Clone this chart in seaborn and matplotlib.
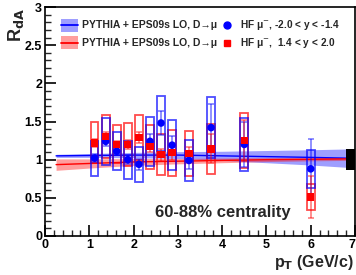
import numpy as np
import pandas as pd
import matplotlib
matplotlib.use("Agg")
import matplotlib.pyplot as plt
from matplotlib.patches import Rectangle
from matplotlib.lines import Line2D
from matplotlib.ticker import MultipleLocator
import seaborn as sns

# ---------------- data ----------------
pt_bins = [1.12, 1.37, 1.62, 1.87, 2.12, 2.37, 2.62, 2.87, 3.25, 3.75, 4.5, 6.0]

blue_rda = [1.02, 1.24, 1.11, 1.00, 0.94, 1.24, 1.48, 1.19, 0.99, 1.42, 1.20, 0.88]
blue_stat = [0.05, 0.06, 0.05, 0.06, 0.07, 0.09, 0.16, 0.12, 0.11, 0.31, 0.30, 0.39]
blue_sys = [0.23, 0.31, 0.25, 0.25, 0.23, 0.32, 0.36, 0.33, 0.27, 0.40, 0.35, 0.245]

red_rda = [1.22, 1.30, 1.20, 1.20, 1.29, 1.17, 1.065, 1.09, 1.08, 1.14, 1.25, 0.51]
red_stat = [0.05, 0.06, 0.05, 0.06, 0.07, 0.07, 0.08, 0.09, 0.09, 0.19, 0.27, 0.27]
red_sys = [0.27, 0.28, 0.25, 0.28, 0.30, 0.29, 0.27, 0.30, 0.29, 0.33, 0.36, 0.165]

theory_pt = [0.25, 1.0, 2.0, 3.0, 4.0, 5.0, 6.0, 6.8]
blue_theory = [1.05, 1.055, 1.06, 1.06, 1.05, 1.04, 1.03, 1.02]
blue_theory_err = [0.02, 0.025, 0.035, 0.045, 0.06, 0.08, 0.10, 0.12]
red_theory = [0.935, 0.95, 0.97, 0.98, 0.99, 1.0, 1.005, 1.01]
red_theory_err = [0.075, 0.06, 0.045, 0.035, 0.03, 0.025, 0.02, 0.02]

norm_unc = 0.14
theory_label = "PYTHIA + EPS09s LO, D\u2192\u03bc"
blue_label = "HF \u03bc$^{-}$, -2.0 < y < -1.4"
red_label = "HF \u03bc$^{-}$,  1.4 < y < 2.0"
centrality_label = "60-88% centrality"
x_ticks = [0, 1, 2, 3, 4, 5, 6, 7]
y_ticks = [0, 0.5, 1, 1.5, 2, 2.5, 3]
y_tick_labels = ["0", "0.5", "1", "1.5", "2", "2.5", "3"]

# ---------------- style ----------------
sns.set_theme(style="white")
plt.rcParams["font.family"] = ["Liberation Sans", "DejaVu Sans"]
plt.rcParams["mathtext.fontset"] = "dejavusans"

W, H = 356, 275
fig = plt.figure(figsize=(W / 100, H / 100), dpi=100)
fig.patch.set_facecolor("white")

def fx(px):
    return px / W

def fy(py):
    return 1 - py / H

ax = fig.add_axes([fx(45), fy(236), fx(355) - fx(45), fy(7) - fy(236)])
ax.set_facecolor("white")

BLUE = (0, 0, 1)
RED = (1, 0, 0)

df_th = pd.DataFrame({"pt": theory_pt, "blue": blue_theory, "blue_e": blue_theory_err,
                      "red": red_theory, "red_e": red_theory_err})

# theory bands
ax.fill_between(df_th["pt"], df_th["blue"] - df_th["blue_e"], df_th["blue"] + df_th["blue_e"],
                color=BLUE, alpha=0.38, lw=0, zorder=1)
ax.fill_between(df_th["pt"], df_th["red"] - df_th["red_e"], df_th["red"] + df_th["red_e"],
                color=RED, alpha=0.38, lw=0, zorder=1)
sns.lineplot(data=df_th, x="pt", y="blue", ax=ax, color=BLUE, lw=1.0, zorder=2)
sns.lineplot(data=df_th, x="pt", y="red", ax=ax, color=RED, lw=1.0, zorder=2)

# systematic boxes
half_w = 0.088
for xs, ys, ss, col in [(pt_bins, red_rda, red_sys, RED), (pt_bins, blue_rda, blue_sys, BLUE)]:
    for xv, yv, sv in zip(xs, ys, ss):
        ax.add_patch(Rectangle((xv - half_w, yv - sv), 2 * half_w, 2 * sv, fill=False,
                               edgecolor=col, lw=1.3, alpha=0.7, zorder=3))

# stat errors
ax.errorbar(pt_bins, blue_rda, yerr=blue_stat, fmt="none", ecolor=BLUE, elinewidth=1.1,
            capsize=2, capthick=1.1, alpha=0.55, zorder=4)
ax.errorbar(pt_bins, red_rda, yerr=red_stat, fmt="none", ecolor=RED, elinewidth=1.1,
            capsize=2, capthick=1.1, alpha=0.55, zorder=4)

df_pts = pd.DataFrame({"pt": pt_bins, "blue": blue_rda, "red": red_rda})
sns.scatterplot(data=df_pts, x="pt", y="blue", ax=ax, color=BLUE, marker="o", s=30,
                edgecolor="none", zorder=5)
sns.scatterplot(data=df_pts, x="pt", y="red", ax=ax, color=RED, marker="s", s=28,
                edgecolor="none", zorder=5)

# normalisation box
ax.fill_between([6.8, 7.0], [1 - norm_unc] * 2, [1 + norm_unc] * 2, color="black", lw=0, zorder=6)

ax.set_xlim(0, 7)
ax.set_ylim(0, 3)
ax.set_xlabel("")
ax.set_ylabel("")
ax.set_xticks(x_ticks)
ax.set_yticks(y_ticks)
ax.set_yticklabels(y_tick_labels)
ax.xaxis.set_minor_locator(MultipleLocator(0.2))
ax.yaxis.set_minor_locator(MultipleLocator(0.1))
ax.tick_params(axis="both", which="major", direction="in", length=8, width=1.2,
               labelsize=9, pad=2, colors="black", bottom=True, left=True, top=False, right=False)
ax.tick_params(axis="both", which="minor", direction="in", length=4, width=1.0,
               bottom=True, left=True, top=False, right=False)
for lab in ax.get_xticklabels() + ax.get_yticklabels():
    lab.set_fontweight("bold")
ax.get_xticklabels()[-1].set_horizontalalignment("right")
for sp in ax.spines.values():
    sp.set_visible(True)
    sp.set_color("black")
    sp.set_linewidth(1.2)

# centrality text
ax.text(2.48, 0.31, centrality_label, fontsize=12, fontweight="bold", ha="left", va="center",
        zorder=7)

# legend (manual)
for yc, col, lab in [(25, BLUE, theory_label), (43, RED, theory_label)]:
    fig.patches.append(Rectangle((fx(61), fy(yc + 6.5)), fx(78) - fx(61), fy(yc - 6.5) - fy(yc + 6.5),
                                 transform=fig.transFigure, facecolor=col, alpha=0.38, lw=0))
    fig.lines.append(Line2D([fx(61), fx(78)], [fy(yc), fy(yc)], transform=fig.transFigure,
                            color=col, lw=1.3))
    fig.text(fx(82), fy(yc), lab, fontsize=7.5, fontweight="bold", ha="left", va="center")

fig.lines.append(Line2D([fx(227)], [fy(25)], transform=fig.transFigure, marker="o",
                        color=BLUE, markersize=5, lw=0))
fig.lines.append(Line2D([fx(227)], [fy(43)], transform=fig.transFigure, marker="s",
                        color=RED, markersize=4.8, lw=0))
fig.text(fx(240), fy(25), blue_label, fontsize=7.3, fontweight="bold", ha="left", va="center")
fig.text(fx(240), fy(43), red_label, fontsize=7.3, fontweight="bold", ha="left", va="center")

# axis titles
fig.text(fx(16), fy(8), "R$_{\\mathbf{dA}}$", fontsize=13, fontweight="bold", rotation=90,
         ha="center", va="top")
fig.text(fx(354), fy(267), "p$_{\\mathbf{T}}$ (GeV/c)", fontsize=11.5, fontweight="bold",
         ha="right", va="baseline")

fig.savefig("out.png", dpi=100, facecolor="white")
